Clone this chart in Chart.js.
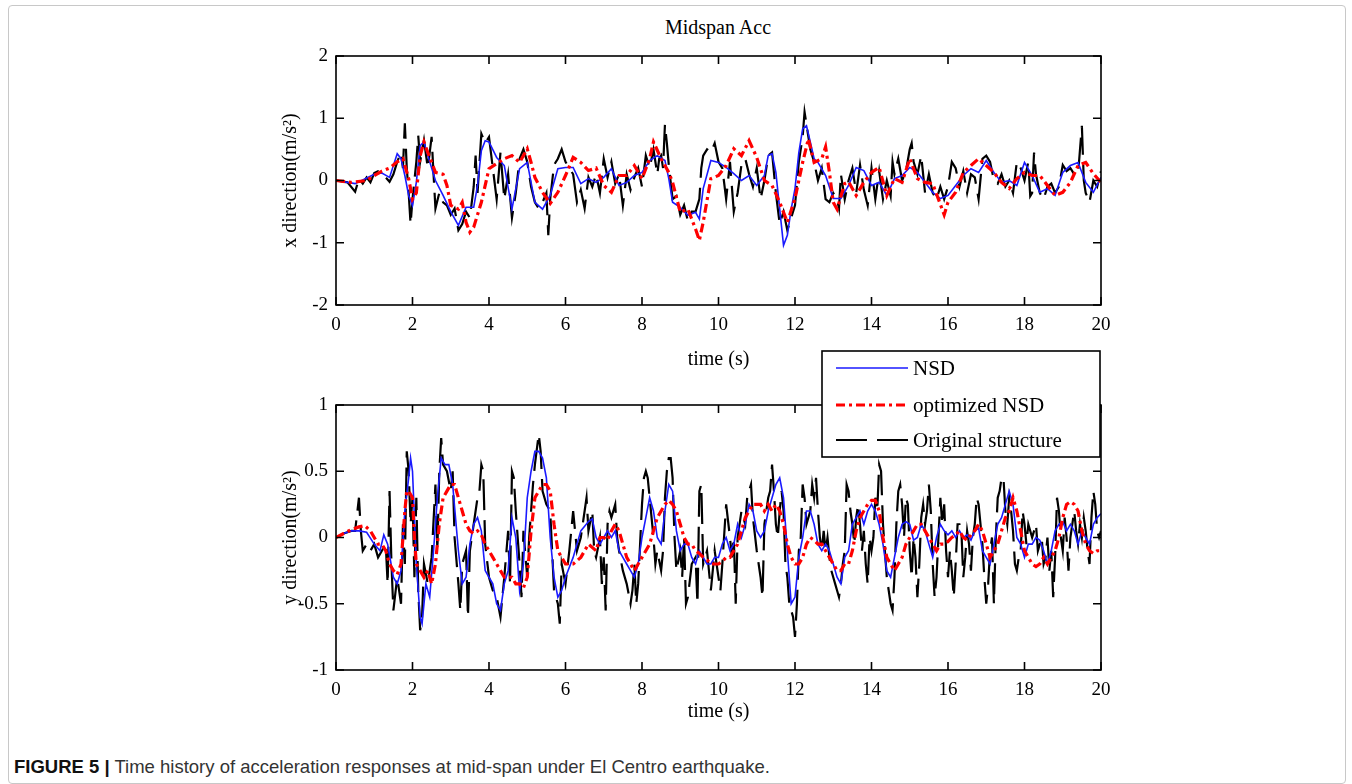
<!DOCTYPE html>
<html lang="en">
<head>
<meta charset="UTF-8">
<title>Midspan Acc</title>
<script src="https://cdn.jsdelivr.net/npm/chart.js"></script>
<style>
  body { margin: 0; background: #fff; width: 1352px; height: 784px; overflow: hidden; position: relative; font-family: "Liberation Serif", serif; }
  .frame { position: absolute; left: 8px; top: 5px; width: 1336px; height: 777px; border: 1px solid #c8c8c8; border-radius: 4px; }
  .plot { position: absolute; left: 0; width: 1352px; }
  #topWrap { top: 0; height: 375px; }
  #bottomWrap { top: 340px; height: 400px; }
  .title { position: absolute; top: 16px; left: 618px; width: 200px; text-align: center; font-size: 20px; color: #000; }
  .caption { position: absolute; left: 14px; top: 756px; font-family: "Liberation Sans", Arial, sans-serif; font-size: 18.5px; color: #333; }
  .caption b { color: #111; }
</style>
</head>
<body>
<div class="frame"></div>
<div class="title">Midspan Acc</div>
<div class="plot" id="topWrap"><canvas id="accX"></canvas></div>
<div class="plot" id="bottomWrap"><canvas id="accY"></canvas></div>
<div class="caption"><b>FIGURE 5 |</b> Time history of acceleration responses at mid-span under El Centro earthquake.</div>

<script>
    // [time (s), acceleration (m/s^2)]
    const nsdX = [[0,0],[0.5,-0.05],[1.0,0.1],[1.2,0.12],[1.4,0.05],[1.6,0.43],[1.7,0.35],[1.8,0.08],[1.9,-0.24],[2.0,-0.4],[2.1,-0.03],[2.2,0.56],[2.3,0.62],[2.4,0.4],[2.6,0],[2.8,-0.24],[3.0,-0.5],[3.2,-0.72],[3.4,-0.43],[3.6,-0.43],[3.7,-0.08],[3.8,0.48],[3.9,0.64],[4.0,0.62],[4.2,0.37],[4.4,0.24],[4.6,-0.46],[4.8,0.19],[5.0,0.29],[5.2,-0.35],[5.4,-0.46],[5.6,-0.24],[5.8,0.19],[6.0,0.21],[6.2,0.21],[6.4,-0.05],[6.6,0.03],[6.8,-0.03],[7.0,0.05],[7.2,0.19],[7.4,-0.08],[7.6,-0.03],[7.8,0.08],[8.0,0.13],[8.2,0.32],[8.4,0.4],[8.6,0.32],[8.7,0.03],[8.8,-0.35],[9.0,-0.43],[9.2,-0.56],[9.4,-0.51],[9.5,-0.62],[9.6,-0.13],[9.8,0.32],[10.0,0.29],[10.2,0.21],[10.4,0.11],[10.6,0],[10.8,0.08],[11.0,-0.08],[11.2,0.08],[11.3,0.4],[11.4,0.43],[11.5,0.13],[11.6,-0.46],[11.7,-1.04],[11.8,-0.88],[11.9,-0.46],[12.0,-0.13],[12.1,0.45],[12.2,0.83],[12.3,0.88],[12.4,0.62],[12.5,0.35],[12.6,0.29],[12.8,0.08],[13.0,-0.29],[13.2,-0.29],[13.4,-0.08],[13.6,0.21],[13.8,0.16],[14.0,-0.08],[14.2,-0.03],[14.4,-0.24],[14.6,0.03],[14.8,0.08],[15.0,0.21],[15.2,0.13],[15.4,-0.03],[15.6,-0.19],[15.8,-0.29],[16.0,-0.24],[16.2,-0.08],[16.4,0.08],[16.6,0.19],[16.8,0.13],[17.0,0.32],[17.2,0.13],[17.4,-0.03],[17.6,0],[17.8,-0.08],[18.0,0.29],[18.2,0.08],[18.4,-0.19],[18.6,-0.13],[18.8,-0.24],[19.0,0.13],[19.2,0.24],[19.4,0.29],[19.6,-0.03],[19.8,-0.19],[20.0,0.05]];

    const optX = [[0,0],[0.4,-0.03],[0.8,0],[1.0,0.08],[1.2,0.15],[1.4,0.2],[1.6,0.3],[1.75,0.35],[1.9,0.03],[2.0,-0.3],[2.1,-0.2],[2.2,0.4],[2.3,0.62],[2.4,0.45],[2.6,0.13],[2.8,0.1],[2.9,-0.08],[3.0,-0.4],[3.2,-0.46],[3.3,-0.35],[3.4,-0.67],[3.5,-0.83],[3.6,-0.75],[3.8,-0.35],[4.0,0.19],[4.2,0.27],[4.4,0.35],[4.6,0.4],[4.8,0.29],[5.0,0.51],[5.1,0.29],[5.2,0.05],[5.4,-0.19],[5.6,-0.37],[5.8,-0.19],[6.0,0.08],[6.2,0.37],[6.4,0.29],[6.6,0.16],[6.8,0.2],[7.0,-0.08],[7.2,-0.19],[7.4,0.08],[7.6,0.08],[7.8,0.24],[8.0,0.03],[8.2,0.35],[8.3,0.62],[8.5,0.35],[8.7,0.13],[8.8,-0.03],[9.0,-0.51],[9.2,-0.46],[9.4,-0.78],[9.5,-0.96],[9.6,-0.67],[9.8,0.03],[10.0,0.08],[10.2,0.24],[10.4,0.51],[10.6,0.4],[10.8,0.64],[11.0,0.37],[11.2,0],[11.4,-0.08],[11.6,-0.35],[11.8,-0.67],[12.0,-0.29],[12.2,0.29],[12.35,0.67],[12.5,0.29],[12.7,0.35],[12.8,0.54],[12.9,0.13],[13.0,-0.35],[13.1,-0.46],[13.3,-0.05],[13.4,-0.02],[13.6,-0.24],[13.8,-0.03],[14.0,0.13],[14.2,0.21],[14.4,-0.24],[14.6,0.03],[14.8,-0.03],[15.0,0.35],[15.2,0.03],[15.4,-0.03],[15.6,-0.05],[15.9,-0.55],[16.0,-0.35],[16.2,-0.19],[16.4,0.13],[16.6,0.24],[16.8,0.35],[17.0,0.24],[17.2,0.13],[17.4,-0.03],[17.6,-0.13],[17.8,0.03],[18.0,0.13],[18.2,0.08],[18.4,0.08],[18.6,-0.08],[18.8,-0.24],[19.0,-0.19],[19.2,-0.03],[19.4,0.24],[19.6,0.29],[19.8,0.11],[20.0,-0.03]];

    const origX = [[0,0],[0.3,-0.03],[0.5,-0.18],[0.6,0.03],[0.7,-0.05],[0.8,0.05],[0.9,-0.03],[1.0,0.12],[1.1,0.15],[1.2,0.12],[1.3,0.05],[1.4,-0.02],[1.5,0.1],[1.6,0.3],[1.7,0.45],[1.75,0.2],[1.8,0.92],[1.85,0.2],[1.9,-0.2],[1.95,-0.7],[2.0,-0.3],[2.1,0.3],[2.15,0.72],[2.2,0.3],[2.3,0.65],[2.4,0.2],[2.5,0.7],[2.55,0.1],[2.6,-0.45],[2.7,-0.2],[2.8,-0.35],[2.9,-0.4],[3.0,-0.55],[3.1,-0.45],[3.2,-0.8],[3.3,-0.7],[3.4,-0.5],[3.5,-0.6],[3.6,-0.1],[3.65,0.4],[3.7,-0.2],[3.8,0.75],[3.9,0.6],[4.0,0.7],[4.1,0.2],[4.2,-0.3],[4.3,0.45],[4.4,-0.3],[4.5,0.1],[4.6,-0.6],[4.7,-0.2],[4.8,0.35],[4.9,0.5],[5.0,0.3],[5.1,-0.1],[5.2,-0.35],[5.3,-0.45],[5.4,-0.35],[5.5,-0.2],[5.55,-0.88],[5.6,-0.3],[5.7,0.25],[5.8,0.35],[5.9,0.5],[6.0,0.3],[6.1,0.2],[6.2,0.1],[6.3,-0.35],[6.4,-0.15],[6.5,-0.45],[6.6,0.05],[6.7,-0.1],[6.8,0.1],[6.9,-0.2],[7.0,0.35],[7.1,0.05],[7.2,0.3],[7.3,-0.05],[7.4,0.1],[7.5,-0.4],[7.6,0.1],[7.7,-0.15],[7.8,0.05],[7.9,0.2],[8.0,-0.1],[8.1,0.4],[8.2,0.2],[8.3,0.5],[8.4,0.1],[8.45,0.35],[8.5,0.4],[8.55,0.2],[8.6,0.9],[8.65,0.6],[8.7,0.25],[8.8,-0.3],[8.9,-0.25],[9.0,-0.55],[9.1,-0.4],[9.2,-0.65],[9.3,-0.5],[9.4,-0.5],[9.5,-0.3],[9.55,0.2],[9.6,0.4],[9.7,0.5],[9.8,0.45],[9.9,0.6],[10.0,0.3],[10.1,0.2],[10.2,-0.3],[10.3,0.3],[10.4,-0.5],[10.5,-0.2],[10.6,0.25],[10.7,0.35],[10.8,0.1],[10.9,-0.1],[11.0,0.2],[11.1,-0.3],[11.2,0],[11.3,0.4],[11.4,0.45],[11.5,-0.2],[11.6,-0.7],[11.7,-0.5],[11.8,-0.8],[11.9,-0.6],[12.0,-0.4],[12.1,0.3],[12.2,0.7],[12.25,1.1],[12.3,0.9],[12.4,0.5],[12.5,0.3],[12.6,0],[12.7,0.2],[12.8,-0.3],[12.9,-0.35],[13.0,-0.2],[13.1,-0.3],[13.15,-0.45],[13.2,0.1],[13.3,-0.3],[13.4,0],[13.5,0.2],[13.6,-0.2],[13.7,0.25],[13.8,-0.15],[13.9,-0.4],[14.0,0.2],[14.1,-0.3],[14.2,0.15],[14.3,-0.3],[14.4,0],[14.5,-0.25],[14.55,0.3],[14.6,0.1],[14.7,0.35],[14.8,0],[14.9,0.15],[15.0,0.5],[15.05,0.6],[15.1,0.3],[15.2,0.1],[15.3,0.4],[15.4,-0.2],[15.5,0.1],[15.6,-0.2],[15.7,-0.3],[15.8,-0.1],[15.9,-0.3],[16.0,-0.1],[16.1,0.3],[16.2,0.2],[16.3,-0.1],[16.4,0.15],[16.5,-0.2],[16.6,0.1],[16.7,0.05],[16.8,-0.3],[16.9,0.35],[17.0,0.4],[17.1,0.3],[17.2,0],[17.3,-0.05],[17.4,0.1],[17.5,-0.1],[17.6,0],[17.7,-0.2],[17.8,0.3],[17.9,0.2],[18.0,0],[18.1,0.3],[18.15,-0.25],[18.2,-0.2],[18.25,0.45],[18.3,0.1],[18.4,-0.2],[18.5,-0.3],[18.6,-0.1],[18.7,-0.05],[18.8,-0.2],[18.9,-0.1],[19.0,0.25],[19.1,0.15],[19.2,0.2],[19.3,0.1],[19.4,0.1],[19.5,0.88],[19.55,0],[19.6,-0.2],[19.7,-0.35],[19.8,0],[19.9,-0.1],[20.0,0.15]];

    const nsdY = [[0,0],[0.2,0.03],[0.4,0.05],[0.6,0.05],[0.8,0.04],[1.0,-0.05],[1.15,-0.1],[1.25,0.02],[1.35,-0.05],[1.5,-0.3],[1.6,-0.35],[1.7,-0.25],[1.8,0.2],[1.9,0.45],[1.95,0.6],[2.0,0.5],[2.05,0.15],[2.1,-0.2],[2.2,-0.6],[2.25,-0.65],[2.35,-0.35],[2.45,-0.45],[2.55,-0.1],[2.65,0.3],[2.75,0.6],[2.85,0.55],[2.95,0.55],[3.05,0.4],[3.2,-0.1],[3.3,-0.35],[3.4,-0.3],[3.5,-0.05],[3.6,0.1],[3.7,0.15],[3.8,0.05],[3.9,-0.25],[4.0,-0.3],[4.1,-0.35],[4.2,-0.5],[4.3,-0.55],[4.4,-0.35],[4.5,-0.25],[4.6,0.15],[4.7,0],[4.8,-0.4],[4.9,-0.2],[5.0,0.3],[5.1,0.5],[5.2,0.65],[5.3,0.65],[5.4,0.6],[5.5,0.45],[5.6,0],[5.7,-0.3],[5.8,-0.45],[5.9,-0.4],[6.0,-0.3],[6.2,-0.15],[6.4,0.05],[6.6,0.12],[6.7,0.14],[6.8,0],[6.9,-0.05],[7.0,0],[7.1,0.05],[7.2,0],[7.3,0.05],[7.4,-0.1],[7.5,-0.15],[7.6,-0.2],[7.7,-0.25],[7.8,-0.3],[7.9,-0.2],[8.0,0],[8.1,0.15],[8.2,0.3],[8.3,0.2],[8.4,0],[8.5,-0.05],[8.6,0.2],[8.7,0.4],[8.8,0.35],[8.9,0.05],[9.0,-0.1],[9.1,-0.05],[9.2,-0.05],[9.3,-0.15],[9.4,-0.2],[9.5,-0.1],[9.6,-0.15],[9.7,-0.2],[9.8,-0.2],[9.9,-0.15],[10.0,-0.15],[10.1,-0.05],[10.2,0],[10.3,-0.1],[10.4,-0.05],[10.5,0.1],[10.6,0],[10.7,0.1],[10.8,0.25],[10.9,0.2],[11.0,0.05],[11.1,0],[11.2,0.05],[11.3,0.2],[11.4,0.3],[11.5,0.4],[11.6,0.45],[11.7,0.3],[11.8,-0.1],[11.9,-0.5],[12.0,-0.45],[12.1,-0.15],[12.2,0],[12.3,0.2],[12.4,0.2],[12.5,0.1],[12.6,-0.05],[12.7,-0.1],[12.8,-0.05],[12.9,-0.1],[13.0,-0.2],[13.1,-0.3],[13.2,-0.35],[13.3,-0.15],[13.4,-0.1],[13.5,0.1],[13.6,0.15],[13.7,0.2],[13.8,0.1],[13.9,0.2],[14.0,0.25],[14.1,0.2],[14.2,0.1],[14.3,-0.05],[14.4,-0.25],[14.5,-0.3],[14.6,-0.15],[14.7,0],[14.8,0.1],[14.9,0.12],[15.0,0.1],[15.1,-0.02],[15.2,0],[15.3,0.1],[15.4,0.05],[15.5,-0.05],[15.6,-0.15],[15.7,0],[15.8,0.1],[15.9,0.05],[16.0,0.02],[16.1,0.05],[16.2,0],[16.3,0.05],[16.4,0],[16.5,0.02],[16.6,-0.02],[16.7,0.05],[16.8,0.07],[16.9,-0.1],[17.0,-0.15],[17.1,-0.2],[17.2,-0.05],[17.3,0.1],[17.4,0.15],[17.5,0.25],[17.6,0.35],[17.7,0.25],[17.8,0],[17.9,-0.05],[18.0,-0.15],[18.1,-0.05],[18.2,-0.05],[18.3,0],[18.4,-0.02],[18.5,-0.1],[18.6,-0.2],[18.7,-0.1],[18.8,0.05],[18.9,0.1],[19.0,0.12],[19.1,0.05],[19.2,0.1],[19.3,0.05],[19.4,-0.05],[19.5,0.05],[19.6,0],[19.7,-0.05],[19.8,0.1],[19.9,0.15],[20.0,0.18]];

    const optY = [[0,0],[0.2,0.03],[0.4,0.06],[0.6,0.08],[0.75,0.09],[0.9,0.05],[1.0,0],[1.1,-0.05],[1.2,-0.05],[1.3,-0.1],[1.4,-0.2],[1.5,-0.25],[1.6,-0.28],[1.7,-0.2],[1.8,0.2],[1.85,0.35],[1.9,0.35],[2.0,0.3],[2.05,0],[2.1,-0.2],[2.2,-0.25],[2.3,-0.3],[2.4,-0.25],[2.5,-0.35],[2.6,-0.2],[2.7,0.1],[2.8,0.3],[2.9,0.35],[3.0,0.4],[3.1,0.4],[3.2,0.3],[3.3,0.2],[3.4,0.1],[3.5,0.05],[3.6,0.03],[3.7,0.05],[3.8,0.02],[3.9,-0.05],[4.0,-0.1],[4.1,-0.15],[4.2,-0.2],[4.3,-0.25],[4.4,-0.3],[4.5,-0.3],[4.6,-0.3],[4.7,-0.35],[4.8,-0.35],[4.9,-0.38],[5.0,-0.3],[5.1,0.05],[5.2,0.3],[5.3,0.35],[5.4,0.4],[5.5,0.4],[5.6,0.35],[5.7,0.1],[5.8,-0.1],[5.9,-0.15],[6.0,-0.2],[6.2,-0.2],[6.4,-0.15],[6.6,-0.05],[6.8,-0.1],[6.9,0],[7.0,0],[7.1,-0.02],[7.2,0.05],[7.3,0.1],[7.4,0.05],[7.5,-0.05],[7.6,-0.15],[7.7,-0.2],[7.8,-0.25],[7.9,-0.2],[8.0,-0.15],[8.1,-0.1],[8.2,-0.05],[8.3,0.05],[8.4,0.15],[8.5,0.2],[8.6,0.25],[8.7,0.28],[8.8,0.25],[8.9,0.2],[9.0,0.1],[9.1,0],[9.2,-0.05],[9.3,-0.05],[9.4,-0.1],[9.5,-0.12],[9.6,-0.15],[9.7,-0.17],[9.8,-0.2],[10.0,-0.2],[10.1,-0.18],[10.2,-0.15],[10.3,-0.15],[10.4,-0.1],[10.5,-0.05],[10.6,0.05],[10.7,0.15],[10.8,0.2],[10.9,0.25],[11.1,0.25],[11.2,0.2],[11.3,0.25],[11.4,0.2],[11.5,0.25],[11.6,0.2],[11.7,0.1],[11.8,-0.05],[11.9,-0.15],[12.0,-0.2],[12.1,-0.2],[12.2,-0.15],[12.3,-0.05],[12.4,0],[12.5,-0.02],[12.6,-0.05],[12.7,-0.05],[12.8,-0.1],[12.9,-0.15],[13.0,-0.2],[13.1,-0.25],[13.2,-0.25],[13.3,-0.2],[13.4,-0.2],[13.5,-0.1],[13.6,0.05],[13.7,0.15],[13.8,0.2],[13.9,0.25],[14.0,0.28],[14.1,0.28],[14.2,0.2],[14.3,0],[14.4,-0.15],[14.5,-0.2],[14.6,-0.25],[14.7,-0.2],[14.8,-0.15],[14.9,-0.05],[15.0,0],[15.1,0.05],[15.2,0.1],[15.3,0.1],[15.4,0.05],[15.5,0],[15.6,-0.05],[15.7,-0.1],[15.8,-0.05],[15.9,-0.05],[16.0,-0.03],[16.1,0],[16.2,0.02],[16.3,0.05],[16.4,0],[16.5,-0.02],[16.6,0.02],[16.7,0.05],[16.8,0.1],[16.9,0.05],[17.0,-0.05],[17.1,-0.15],[17.2,-0.1],[17.3,-0.05],[17.4,0.05],[17.5,0.15],[17.6,0.2],[17.7,0.3],[17.8,0.2],[17.9,0.05],[18.0,-0.1],[18.1,-0.15],[18.2,-0.2],[18.3,-0.22],[18.4,-0.2],[18.5,-0.15],[18.6,-0.2],[18.7,-0.15],[18.8,-0.1],[18.9,0],[19.0,0.15],[19.1,0.25],[19.2,0.27],[19.3,0.25],[19.4,0.2],[19.5,0.05],[19.6,-0.05],[19.7,-0.1],[19.8,-0.12],[19.9,-0.1],[20.0,-0.1]];

    const origY = [[0,0],[0.2,0.03],[0.4,0.05],[0.5,0.05],[0.6,0.3],[0.65,0.05],[0.7,-0.1],[0.8,-0.05],[0.9,-0.1],[1.0,-0.05],[1.1,-0.15],[1.2,-0.1],[1.3,-0.05],[1.35,-0.35],[1.4,0.35],[1.45,-0.2],[1.5,-0.55],[1.6,-0.3],[1.7,-0.5],[1.75,0.1],[1.8,-0.2],[1.85,0.65],[1.9,0.5],[1.95,0.1],[2.0,0.3],[2.05,-0.3],[2.1,0.3],[2.15,-0.4],[2.2,-0.7],[2.25,-0.6],[2.3,-0.2],[2.4,-0.35],[2.5,-0.15],[2.6,0.4],[2.65,-0.1],[2.7,0.5],[2.75,0.75],[2.8,0.55],[2.9,0.5],[3.0,0.35],[3.05,0.5],[3.1,0],[3.2,-0.35],[3.25,-0.55],[3.3,-0.2],[3.4,-0.1],[3.45,-0.6],[3.5,-0.1],[3.6,0.1],[3.7,0.3],[3.75,0.35],[3.8,0.55],[3.85,0.5],[3.9,-0.05],[4.0,-0.3],[4.1,-0.4],[4.2,-0.45],[4.3,-0.6],[4.4,-0.3],[4.5,0.05],[4.55,-0.35],[4.6,0.5],[4.65,0.45],[4.7,0.2],[4.8,-0.2],[4.85,-0.45],[4.9,0.05],[5.0,-0.3],[5.05,0],[5.1,0.2],[5.15,0.4],[5.2,0.55],[5.3,0.78],[5.35,0.65],[5.4,0.35],[5.5,0.25],[5.6,0.2],[5.65,-0.1],[5.7,-0.4],[5.8,-0.5],[5.85,-0.65],[5.9,-0.2],[6.0,-0.35],[6.1,-0.1],[6.2,0.2],[6.3,-0.1],[6.4,0],[6.5,0.2],[6.55,0.3],[6.6,0.05],[6.7,0.2],[6.75,-0.1],[6.8,-0.15],[6.9,0],[6.95,-0.35],[7.0,-0.15],[7.05,-0.55],[7.1,0.1],[7.15,0.2],[7.2,0.15],[7.3,0.25],[7.35,0],[7.4,-0.1],[7.5,-0.25],[7.6,-0.35],[7.7,-0.5],[7.75,-0.4],[7.8,-0.2],[7.85,-0.5],[7.9,-0.35],[8.0,0.25],[8.05,0.45],[8.1,0.5],[8.15,0.45],[8.2,0.3],[8.3,0],[8.35,-0.2],[8.4,-0.1],[8.5,-0.25],[8.55,-0.1],[8.6,0.3],[8.65,0.5],[8.7,0.6],[8.75,0.6],[8.8,0.45],[8.85,0],[8.9,-0.25],[9.0,-0.1],[9.05,-0.3],[9.1,0],[9.15,-0.5],[9.2,-0.45],[9.3,-0.2],[9.4,-0.15],[9.45,-0.5],[9.5,0.35],[9.55,0.4],[9.6,-0.2],[9.7,-0.1],[9.8,-0.4],[9.9,-0.1],[10.0,-0.3],[10.05,-0.4],[10.1,-0.2],[10.2,0.25],[10.3,0],[10.35,-0.15],[10.4,0],[10.45,-0.5],[10.5,0],[10.6,0.2],[10.7,0.1],[10.75,0.3],[10.8,0.35],[10.85,0.4],[10.9,0.15],[11.0,-0.1],[11.05,-0.2],[11.1,-0.3],[11.15,-0.45],[11.2,0.1],[11.25,0.2],[11.3,0.3],[11.35,0.35],[11.4,0.55],[11.45,0.35],[11.5,0.1],[11.55,0],[11.6,0.2],[11.65,0.35],[11.7,0.2],[11.75,-0.2],[11.8,-0.3],[11.85,-0.5],[11.9,-0.55],[11.95,-0.6],[12.0,-0.75],[12.05,-0.5],[12.1,-0.1],[12.15,0],[12.2,0.4],[12.25,0.3],[12.3,0.1],[12.4,0.2],[12.45,0.4],[12.5,0.3],[12.55,0.45],[12.6,0.2],[12.65,0],[12.7,-0.1],[12.75,0.05],[12.8,-0.1],[12.85,0],[12.9,-0.15],[12.95,-0.25],[13.0,-0.3],[13.05,-0.35],[13.1,-0.4],[13.15,-0.45],[13.2,-0.35],[13.25,-0.2],[13.3,-0.1],[13.35,0.4],[13.4,0.35],[13.45,0.2],[13.5,0.1],[13.55,-0.05],[13.6,0.15],[13.65,0.25],[13.7,0.1],[13.75,-0.1],[13.8,0.05],[13.85,-0.2],[13.9,-0.35],[13.95,0],[14.0,-0.1],[14.05,0],[14.1,0.3],[14.15,0.2],[14.2,0.55],[14.25,0.5],[14.3,0.1],[14.35,-0.1],[14.4,-0.3],[14.45,-0.4],[14.5,-0.5],[14.55,-0.55],[14.6,-0.3],[14.65,0.1],[14.7,0.35],[14.75,0.4],[14.8,0.25],[14.85,0],[14.9,0.3],[14.95,0.25],[15.0,-0.1],[15.05,-0.3],[15.1,0],[15.15,-0.15],[15.2,-0.45],[15.25,-0.2],[15.3,0.15],[15.35,0.25],[15.4,0.1],[15.45,0.2],[15.5,0.4],[15.55,0.2],[15.6,-0.2],[15.65,-0.45],[15.7,-0.3],[15.75,0],[15.8,0.3],[15.85,0.1],[15.9,0.25],[15.95,-0.1],[16.0,-0.3],[16.05,-0.1],[16.1,-0.25],[16.15,-0.45],[16.2,-0.2],[16.25,0.1],[16.3,0.1],[16.35,0.05],[16.4,-0.3],[16.45,-0.15],[16.5,0.05],[16.55,-0.05],[16.6,-0.25],[16.65,0],[16.7,0.1],[16.75,0.3],[16.8,0.25],[16.85,0.1],[16.9,-0.05],[16.95,-0.3],[17.0,-0.5],[17.05,-0.35],[17.1,-0.1],[17.15,0],[17.2,-0.5],[17.25,0],[17.3,0.3],[17.35,0.35],[17.4,0.45],[17.45,0.45],[17.5,0.2],[17.55,0.1],[17.6,0.3],[17.65,0.2],[17.7,0.05],[17.75,-0.2],[17.8,-0.25],[17.85,-0.15],[17.9,-0.1],[17.95,0.2],[18.0,0.1],[18.05,-0.05],[18.1,0.1],[18.2,0],[18.25,0.05],[18.3,0.1],[18.35,-0.1],[18.4,-0.05],[18.45,0],[18.5,-0.2],[18.55,-0.15],[18.6,0],[18.65,-0.25],[18.7,-0.1],[18.75,-0.45],[18.8,-0.15],[18.85,0.3],[18.9,0.2],[18.95,0],[19.0,-0.1],[19.05,0.15],[19.1,0],[19.15,-0.25],[19.2,0],[19.25,0.1],[19.3,0.2],[19.35,0.05],[19.4,-0.05],[19.45,0.1],[19.5,0],[19.55,0.15],[19.6,0.05],[19.65,-0.1],[19.7,-0.2],[19.75,0.15],[19.8,0.35],[19.85,0.25],[19.9,0.05],[19.95,0],[20.0,0.05]];

    const seriesNames = ['NSD', 'optimized NSD', 'Original structure'];
    const xTicksTime = [0, 20, 2];   // min, max, step

    const serif = 'Liberation Serif';
    const tickFont = { family: serif, size: 19 };
    const labelFont = { family: serif, size: 20 };

    function toXY(arr) { return arr.map(p => ({ x: p[0], y: p[1] })); }

    function datasets(nsd, opt, orig) {
        return [
            { label: seriesNames[0], data: toXY(nsd), borderColor: '#1a1aff', borderWidth: 1.6, pointRadius: 0, order: 2 },
            { label: seriesNames[1], data: toXY(opt), borderColor: '#ff0000', borderWidth: 3.2, borderDash: [9, 4, 3, 4], pointRadius: 0, order: 1 },
            { label: seriesNames[2], data: toXY(orig), borderColor: '#000000', borderWidth: 2.2, borderDash: [31, 10], pointRadius: 0, order: 3 }
        ];
    }

    // box with inward tick marks on all four sides
    const framePlugin = {
        id: 'frame',
        afterDatasetsDraw(chart) {
            const { ctx, chartArea: a, scales: { x, y } } = chart;
            ctx.save();
            ctx.strokeStyle = '#000';
            ctx.lineWidth = 1.6;
            ctx.setLineDash([]);
            ctx.strokeRect(a.left, a.top, a.right - a.left, a.bottom - a.top);
            ctx.beginPath();
            x.ticks.forEach(t => {
                const px = x.getPixelForValue(t.value);
                ctx.moveTo(px, a.bottom); ctx.lineTo(px, a.bottom - 8);
                ctx.moveTo(px, a.top); ctx.lineTo(px, a.top + 8);
            });
            y.ticks.forEach(t => {
                const py = y.getPixelForValue(t.value);
                ctx.moveTo(a.left, py); ctx.lineTo(a.left + 8, py);
                ctx.moveTo(a.right, py); ctx.lineTo(a.right - 8, py);
            });
            ctx.stroke();
            ctx.restore();
        }
    };

    const boxLegend = {
        id: 'boxLegend',
        afterDraw(chart, args, opts) {
            if (!opts.show) return;
            const ctx = chart.ctx;
            const L = 822, T = 11, W = 278, H = 106;
            ctx.save();
            ctx.fillStyle = '#fff';
            ctx.fillRect(L, T, W, H);
            ctx.strokeStyle = '#000';
            ctx.lineWidth = 1.6;
            ctx.setLineDash([]);
            ctx.strokeRect(L, T, W, H);
            ctx.font = '21px "' + serif + '"';
            ctx.textBaseline = 'middle';
            ctx.fillStyle = '#000';
            const rowsY = [T + 17, T + 54, T + 89];
            chart.data.datasets.forEach((ds, i) => {
                const yy = rowsY[i];
                ctx.strokeStyle = ds.borderColor;
                ctx.lineWidth = ds.borderWidth;
                ctx.setLineDash(ds.borderDash || []);
                ctx.beginPath();
                ctx.moveTo(L + 14, yy);
                ctx.lineTo(L + 86, yy);
                ctx.stroke();
                ctx.fillText(ds.label, L + 91, yy + 1);
            });
            ctx.restore();
        }
    };

    function makeChart(id, nsd, opt, orig, yMin, yMax, yStep, yTitle, padTop, xTitlePad, showLegend) {
        return new Chart(document.getElementById(id), {
            type: 'line',
            data: { datasets: datasets(nsd, opt, orig) },
            options: {
                responsive: true,
                maintainAspectRatio: false,
                animation: false,
                layout: { padding: { left: 277, right: 251, top: padTop, bottom: 0 } },
                plugins: { legend: { display: false }, tooltip: { enabled: false }, boxLegend: { show: showLegend } },
                scales: {
                    x: {
                        type: 'linear', min: xTicksTime[0], max: xTicksTime[1],
                        ticks: { stepSize: xTicksTime[2], padding: 9, color: '#000', font: tickFont, maxRotation: 0 },
                        grid: { display: false, drawTicks: false }, border: { display: false },
                        title: { display: true, text: 'time (s)', color: '#000', font: labelFont, padding: xTitlePad },
                        afterFit: s => { s.height = 70; }
                    },
                    y: {
                        min: yMin, max: yMax,
                        ticks: { stepSize: yStep, padding: 8, color: '#000', font: tickFont, callback: v => String(v) },
                        grid: { display: false, drawTicks: false }, border: { display: false },
                        title: { display: true, text: yTitle, color: '#000', font: labelFont, padding: 2 },
                        afterFit: s => { s.width = 59; }
                    }
                }
            },
            plugins: [framePlugin, boxLegend]
        });
    }

    makeChart('accX', nsdX, optX, origX, -2, 2, 1, 'x direction(m/s\u00B2)', 56, { top: 10, bottom: 3 }, false);
    makeChart('accY', nsdY, optY, origY, -1, 1, 0.5, 'y direction(m/s\u00B2)', 65, { top: 4, bottom: 16 }, true);
</script>
</body>
</html>
